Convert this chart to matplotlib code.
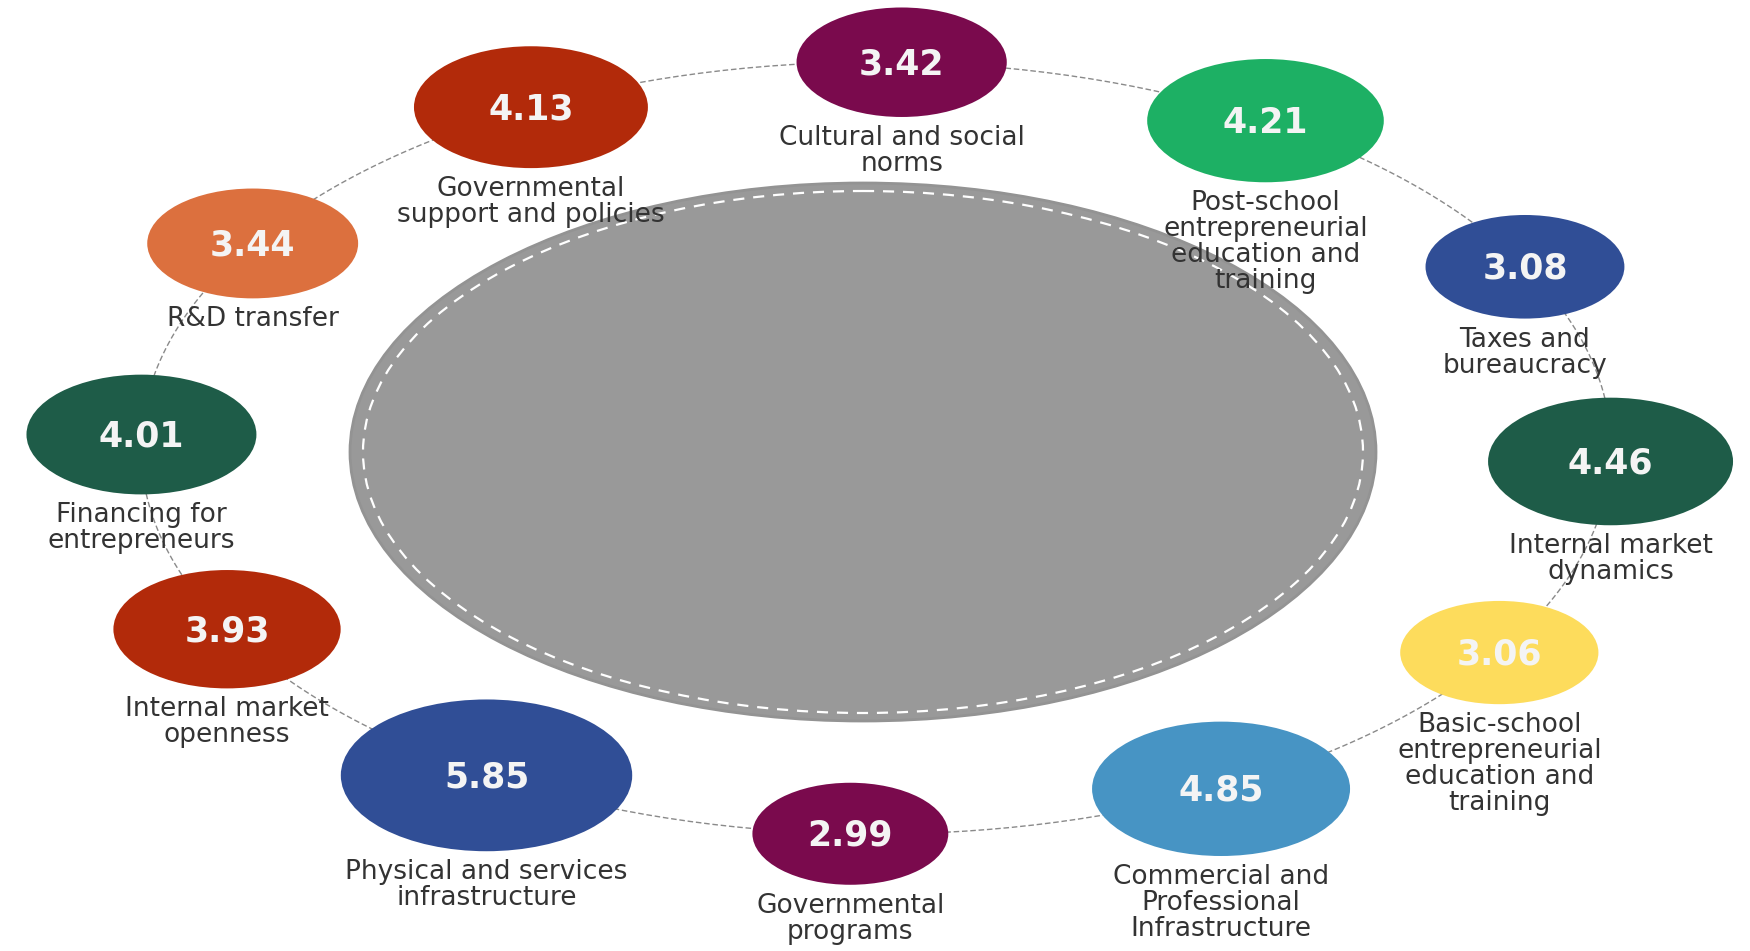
import numpy as np
import matplotlib
matplotlib.use("Agg")
import matplotlib.pyplot as plt
from matplotlib.patches import Ellipse

# ---- data (clockwise from top) ----
labels = [
    "Cultural and social\nnorms",
    "Post-school\nentrepreneurial\neducation and\ntraining",
    "Taxes and\nbureaucracy",
    "Internal market\ndynamics",
    "Basic-school\nentrepreneurial\neducation and\ntraining",
    "Commercial and\nProfessional\nInfrastructure",
    "Governmental\nprograms",
    "Physical and services\ninfrastructure",
    "Internal market\nopenness",
    "Financing for\nentrepreneurs",
    "R&D transfer",
    "Governmental\nsupport and policies",
]
values = [3.42, 4.21, 3.08, 4.46, 3.06, 4.85, 2.99, 5.85, 3.93, 4.01, 3.44, 4.13]
colors = ["#7A0A4D", "#1DB064", "#304E96", "#1E5C48", "#FDDC5C", "#4794C4",
          "#7A0A4D", "#304E96", "#B22A0A", "#1E5C48", "#DC703E", "#B22A0A"]

# ---- layout ----
W, H = 1750, 951
fig = plt.figure(figsize=(W / 100, H / 100), dpi=100)
ax = fig.add_axes([0, 0, 1, 1])
ax.set_xlim(0, W)
ax.set_ylim(H, 0)
ax.axis("off")

cx, cy = 876, 448
ring_rx, ring_ry = 735, 386
stretch = 1.92
start_angle = 88  # degrees, first bubble near the top, then clockwise

# central ellipse
ax.add_patch(Ellipse((863, 452), 2 * 513, 2 * 269, facecolor="#999999",
                     edgecolor="#939393", lw=2, zorder=1))
ax.add_patch(Ellipse((863, 452), 2 * 500, 2 * 261, facecolor="none",
                     edgecolor="white", lw=1.6, ls=(0, (5, 4)), zorder=2))

# dashed ring
t = np.linspace(0, 2 * np.pi, 400)
ax.plot(cx + ring_rx * np.cos(t), cy - ring_ry * np.sin(t), color="#8a8a8a",
        lw=1.0, ls=(0, (4, 2)), zorder=3)

n = len(values)
for i, (lab, v, c) in enumerate(zip(labels, values, colors)):
    th = np.deg2rad(start_angle - 360 * i / n)
    x = cx + ring_rx * np.cos(th)
    y = cy - ring_ry * np.sin(th)
    hw = 48 + 16.7 * v
    hh = hw / stretch
    ax.add_patch(Ellipse((x, y), 2 * hw, 2 * hh, facecolor=c, edgecolor="none", zorder=4))
    ax.text(x, y + 2, f"{v:.2f}", ha="center", va="center", color="#f4f4f4",
            fontsize=25, fontweight="bold", family="DejaVu Sans", zorder=5)
    ax.text(x, y + hh + 8, lab, ha="center", va="top", color="#333333",
            fontsize=19, family="DejaVu Sans", linespacing=1.0, zorder=6)

fig.savefig("out.png", dpi=100)
